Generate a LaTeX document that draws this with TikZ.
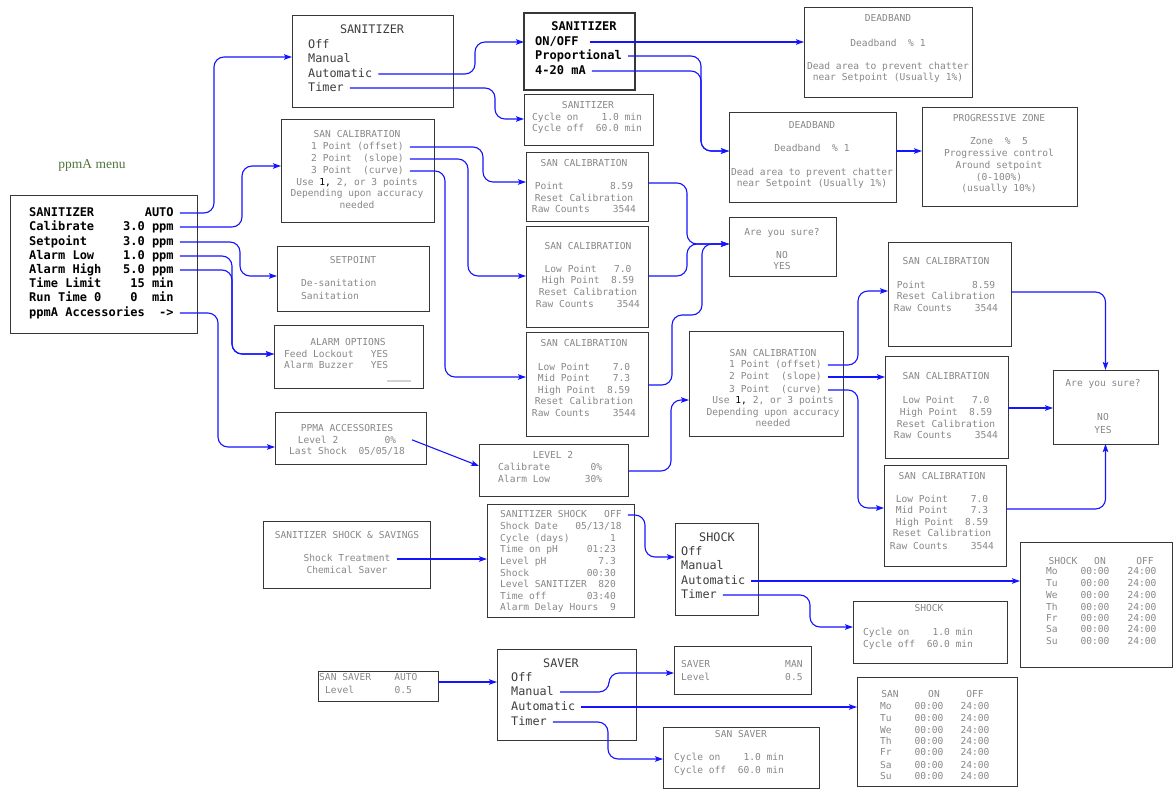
\documentclass[tikz,border=0pt]{standalone}
\usepackage{fontspec}
\setmainfont{Liberation Serif}
\setmonofont{DejaVu Sans Mono}
\usetikzlibrary{arrows.meta}

\definecolor{bleu}{RGB}{20,20,255}
\definecolor{trait}{RGB}{55,55,55}
\definecolor{gristexte}{RGB}{135,135,135}
\definecolor{grisfonce}{RGB}{60,60,60}
\definecolor{vertmenu}{RGB}{80,115,60}

\tikzset{
  cadre/.style={draw=trait, line width=1pt, inner sep=0pt, outer sep=0pt},
  petit/.style={font=\ttfamily\fontsize{9.6}{11}\selectfont, text=gristexte, inner sep=1pt, text height=7pt, text depth=2pt},
  grand/.style={font=\ttfamily\fontsize{11.8}{14}\selectfont, text=grisfonce, inner sep=1pt, text height=8.5pt, text depth=2.5pt},
  gras/.style={font=\ttfamily\bfseries\fontsize{12}{14}\selectfont, text=black, inner sep=1pt, text height=8.5pt, text depth=2.5pt},
  lien/.style={draw=bleu, line width=1.1pt, rounded corners=10pt, -{Stealth[length=8pt,width=5.5pt,inset=1.5pt]}},
  fil/.style={lien, shorten <=5pt}
}

% boite : [options] nom, x1, y1, x2, y2
\newcommand\boite[6][]{\node[cadre,#1, minimum width={#5-#3}, minimum height={#6-#4}] (#2) at ({(#3+#5)/2},{(#4+#6)/2}) {};}
% textes : [style] prefixe, x, {texte/y, ...}
\newcommand\textes[4][]{\foreach \txt/\y [count=\i] in {#4} {\node[petit,#1] (#2\i) at (#3,\y) {\txt};}}

\begin{document}
\begin{tikzpicture}[x=1pt,y=-1pt]
	\useasboundingbox (0,0) rectangle (1173,790);
	% Menu principal
	\node[font=\rmfamily\fontsize{13.5}{15}\selectfont, text=vertmenu] (titre) at (92,165) {ppmA menu};
	\boite{menu}{10}{195}{197}{333}
	\textes[gras,anchor=west]{m}{28}{SANITIZER~~~~~~~AUTO/213, Calibrate~~~~3.0 ppm/227, Setpoint~~~~~3.0 ppm/242, Alarm Low~~~~1.0 ppm/256, Alarm High~~~5.0 ppm/270, Time Limit~~~~15 min/284, Run Time 0~~~~0~~min/298, ppmA Accessories~~->/313}
	% Sanitizer
	\boite{san}{292}{15}{453}{107}
	\textes[grand]{sat}{372}{SANITIZER/30}
	\textes[grand,anchor=west]{sa}{307}{Off/45, Manual/59, Automatic/74, Timer/88}
	\boite[line width=1.5pt]{sanb}{524}{13}{635}{90}
	\textes[gras]{sbt}{584}{SANITIZER/27}
	\textes[gras,anchor=west]{sb}{534}{{ON/OFF}/42, Proportional/56, 4-20 mA/71}
	\boite{sancyc}{524}{94}{653}{145}
	\textes{sct}{588}{SANITIZER/106}
	\textes[anchor=west]{sc}{531}{Cycle on~~~~1.0 min/118, Cycle off~~60.0 min/129}
	\boite{db1}{804}{7}{972}{97}
	\textes{da}{888}{DEADBAND/19, Deadband~~\% 1/44, Dead area to prevent chatter/67, near Setpoint (Usually 1\%)/78}
	\boite{db2}{729}{112}{896}{202}
	\textes{dd}{812}{DEADBAND/126, Deadband~~\% 1/149, Dead area to prevent chatter/173, near Setpoint (Usually 1\%)/184}
	\boite{prog}{922}{107}{1077}{206}
	\textes{pz}{999}{PROGRESSIVE ZONE/119, Zone~~\%~~5/142, Progressive control/154, Around setpoint/166, {(0-100\%)}/178, {(usually 10\%)}/189}
	% Calibration, consigne, alarmes
	\boite{cal}{281}{119}{434}{222}
	\textes{cat}{357}{SAN CALIBRATION/135}
	\textes[anchor=west]{ca}{310}{1 Point (offset)/147, 2 Point~~(slope)/159, 3 Point~~(curve)/171}
	\textes{cau}{357}{{Use {\color{black}1,} 2, or 3 points}/183, Depending upon accuracy/194, needed/206}
	\boite{setp}{277}{246}{429}{311}
	\textes{spt}{353}{SETPOINT/261}
	\textes[anchor=west]{sp}{300}{De-sanitation/284, Sanitation/297}
	\boite{alarme}{274}{325}{423}{388}
	\textes{alt}{348}{ALARM OPTIONS/343}
	\textes[anchor=west]{al}{283}{Feed Lockout~~~YES/355, Alarm Buzzer~~~YES/366}
	\draw[gray!35, line width=2pt] (387,381) -- (411,381);
	\boite{acc}{275}{412}{426}{464}
	\textes{ac}{347}{PPMA ACCESSORIES/429, Level 2~~~~~~~~0\%/441, {Last Shock~~05/05/18}/452}
	\boite{niv}{479}{444}{628}{496}
	\textes{nvt}{553}{LEVEL 2/456}
	\textes[anchor=west]{nv}{497}{Calibrate~~~~~~~0\%/468, Alarm Low~~~~~~30\%/480}
	% Ecrans de calibration
	\boite{calp}{526}{152}{648}{221}
	\textes{cp}{584}{SAN CALIBRATION/164, Point~~~~~~~~8.59/187, Reset Calibration/199, Raw Counts~~~~3544/210}
	\boite{call}{526}{226}{648}{327}
	\textes{cl}{588}{SAN CALIBRATION/247, Low Point~~~7.0/270, High Point~~8.59/281, Reset Calibration/293, Raw Counts~~~~3544/305}
	\boite{calt}{526}{332}{648}{436}
	\textes{ct}{584}{SAN CALIBRATION/344, Low Point~~~~7.0/368, Mid Point~~~~7.3/379, High Point~~8.59/391, Reset Calibration/402, Raw Counts~~~~3544/414}
	\boite{sure1}{729}{217}{836}{276}
	\textes{so}{782}{Are you sure?/233, NO/256, YES/267}
	\boite{calr}{689}{331}{843}{436}
	\textes{crt}{773}{SAN CALIBRATION/354}
	\textes[anchor=west]{cr}{728}{1 Point (offset)/365, 2 Point~~(slope)/377, 3 Point~~(curve)/390}
	\textes{cru}{773}{{Use {\color{black}1,} 2, or 3 points}/401, Depending upon accuracy/413, needed/424}
	\boite{calrp}{888}{242}{1011}{346}
	\textes{rp}{946}{SAN CALIBRATION/262, Point~~~~~~~~8.59/286, Reset Calibration/297, Raw Counts~~~~3544/309}
	\boite{calrl}{885}{356}{1008}{458}
	\textes{rl}{946}{SAN CALIBRATION/377, Low Point~~~7.0/401, High Point~~8.59/413, Reset Calibration/425, Raw Counts~~~~3544/436}
	\boite{calrt}{884}{465}{1006}{566}
	\textes{rt}{942}{SAN CALIBRATION/477, Low Point~~~~7.0/500, Mid Point~~~~7.3/511, High Point~~8.59/523, Reset Calibration/534, Raw Counts~~~~3544/547}
	\boite{sure2}{1053}{370}{1158}{444}
	\textes{st}{1103}{Are you sure?/384, NO/418, YES/431}
	% Shock
	\boite{sss}{263}{521}{430}{588}
	\textes{ss}{347}{SANITIZER SHOCK \& SAVINGS/536, Shock Treatment/559, Chemical Saver/571}
	\boite{shk}{487}{504}{634}{617}
	\textes[anchor=west]{sk}{499}{SANITIZER SHOCK~~~OFF/515, {Shock Date~~~05/13/18}/527, Cycle (days)~~~~~~~1/539, Time on pH~~~~~01:23/550, Level pH~~~~~~~~~7.3/562, Shock~~~~~~~~~~00:30/574, Level SANITIZER~~820/585, Time off~~~~~~~03:40/597, Alarm Delay Hours~~9/608}
	\boite{choc}{675}{523}{758}{615}
	\textes[grand]{cht}{717}{SHOCK/538}
	\textes[grand,anchor=west]{ch}{680}{Off/552, Manual/566, Automatic/581, Timer/595}
	\boite{chocsem}{1020}{542}{1172}{667}
	\node[petit] (chj) at (1063,562) {SHOCK};
	\node[petit] (chon) at (1100,562) {ON};
	\node[petit] (choff) at (1145,562) {OFF};
	\foreach \j/\y [count=\i] in {Mo/572, Tu/584, We/596, Th/608, Fr/619, Sa/630, Su/642} {
		\node[petit,anchor=west] (cj\i) at (1045,\y) {\j};
		\node[petit] (cn\i) at (1095,\y) {00:00};
		\node[petit] (cf\i) at (1142,\y) {24:00};
	}
	\boite{choccyc}{853}{601}{1007}{663}
	\textes{cyt}{929}{SHOCK/609}
	\textes[anchor=west]{cy}{862}{Cycle on~~~~1.0 min/633, Cycle off~~60.0 min/645}
	% Saver
	\boite{ssa}{318}{671}{438}{701}
	\textes[anchor=west]{sx}{318}{SAN SAVER~~~~AUTO/678}
	\textes[anchor=west]{sxl}{324}{Level~~~~~~~0.5/691}
	\boite{saver}{497}{649}{636}{740}
	\textes[grand]{svt}{561}{SAVER/664}
	\textes[grand,anchor=west]{sv}{510}{Off/678, Manual/692, Automatic/707, Timer/722}
	\boite{saverman}{674}{646}{811}{694}
	\textes[anchor=west]{sm}{680}{SAVER~~~~~~~~~~~~~MAN/665, Level~~~~~~~~~~~~~0.5/678}
	\boite{savercyc}{663}{727}{819}{788}
	\textes{syt}{741}{SAN SAVER/735}
	\textes[anchor=west]{sy}{673}{Cycle on~~~~1.0 min/758, Cycle off~~60.0 min/771}
	\boite{sanh}{857}{677}{1017}{786}
	\node[petit] (hj) at (890,695) {SAN};
	\node[petit] (hon) at (934,695) {ON};
	\node[petit] (hoff) at (975,695) {OFF};
	\foreach \j/\y [count=\i] in {Mo/707, Tu/719, We/731, Th/742, Fr/753, Sa/766, Su/777} {
		\node[petit,anchor=west] (hj\i) at (879,\y) {\j};
		\node[petit] (hn\i) at (929,\y) {00:00};
		\node[petit] (hf\i) at (975,\y) {24:00};
	}
	% Liens du menu principal
	\draw[fil] (m1.east) -| (214,57) -- (san.west |- 0,57);
	\draw[fil] (m2.east) -| (242,166) -- (cal.west |- 0,166);
	\draw[fil] (m3.east) -| (240,276) -- (setp.west |- 0,276);
	\draw[fil] (m4.east) -| (232,354) -- (alarme.west |- 0,354);
	\draw[fil] (m5.east) -| (232,354) -- (alarme.west |- 0,354);
	\draw[fil] (m8.east) -| (218,447) -- (acc.west |- 0,447);
	% Liens sanitizer
	\draw[fil] (sa3.east) -| (475,42) -- (sanb.west |- 0,42);
	\draw[fil] (sa4.east) -| (495,119) -- (sancyc.west |- 0,119);
	\draw[fil, shorten <=10pt] (sb1.east) -- (db1.west |- sb1);
	\draw[fil] (sb2.east) -| (701,151) -- (db2.west |- 0,151);
	\draw[fil] (sb3.east) -| (701,151) -- (db2.west |- 0,151);
	\draw[lien] (db2.east |- 0,151) -- (prog.west |- 0,151);
	% Liens calibration
	\draw[fil] (ca1.east) -| (483,182) -- (calp.west |- 0,182);
	\draw[fil] (ca2.east) -| (468,276) -- (call.west |- 0,276);
	\draw[fil] (ca3.east) -| (445,377) -- (calt.west |- 0,377);
	\draw[lien] (calp.east |- 0,183) -| (687,244) -- (sure1.west |- 0,244);
	\draw[lien] (call.east |- 0,276) -| (687,244) -- (sure1.west |- 0,244);
	\draw[lien] (calt.east |- 0,385) -| (672,315) -| (702,244) -- (sure1.west |- 0,244);
	\draw[fil, rounded corners=0pt] ([xshift=10pt,yshift=3pt]ac2.east) -- (niv.west |- 0,466);
	\draw[lien] (niv.east |- 0,471) -| (671,400) -- (calr.west |- 0,400);
	\draw[fil] (cr1.east) -| (858,291) -- (calrp.west |- 0,291);
	\draw[fil] (cr2.east) -- (calrl.west |- cr2);
	\draw[fil] (cr3.east) -| (858,508) -- (calrt.west |- 0,508);
	\draw[lien] (calrp.east |- 0,292) -| (sure2.north);
	\draw[lien] (calrl.east |- 0,408) -- (sure2.west |- 0,408);
	\draw[lien] (calrt.east |- 0,509) -| (sure2.south);
	% Liens shock et saver
	\draw[fil] (ss2.east) -- (shk.west |- ss2);
	\draw[fil] (sk1.east) -| (645,557) -- (choc.west |- 0,557);
	\draw[fil] (ch3.east) -- (chocsem.west |- ch3);
	\draw[fil] (ch4.east) -| (810,627) -- (choccyc.west |- 0,627);
	\draw[lien] (ssa.east |- 0,682) -- (saver.west |- 0,682);
	\draw[fil] (sv2.east) -| (609,673) -- (saverman.west |- 0,673);
	\draw[fil] (sv3.east) -- (sanh.west |- sv3);
	\draw[fil] (sv4.east) -| (608,759) -- (savercyc.west |- 0,759);
\end{tikzpicture}
\end{document}
